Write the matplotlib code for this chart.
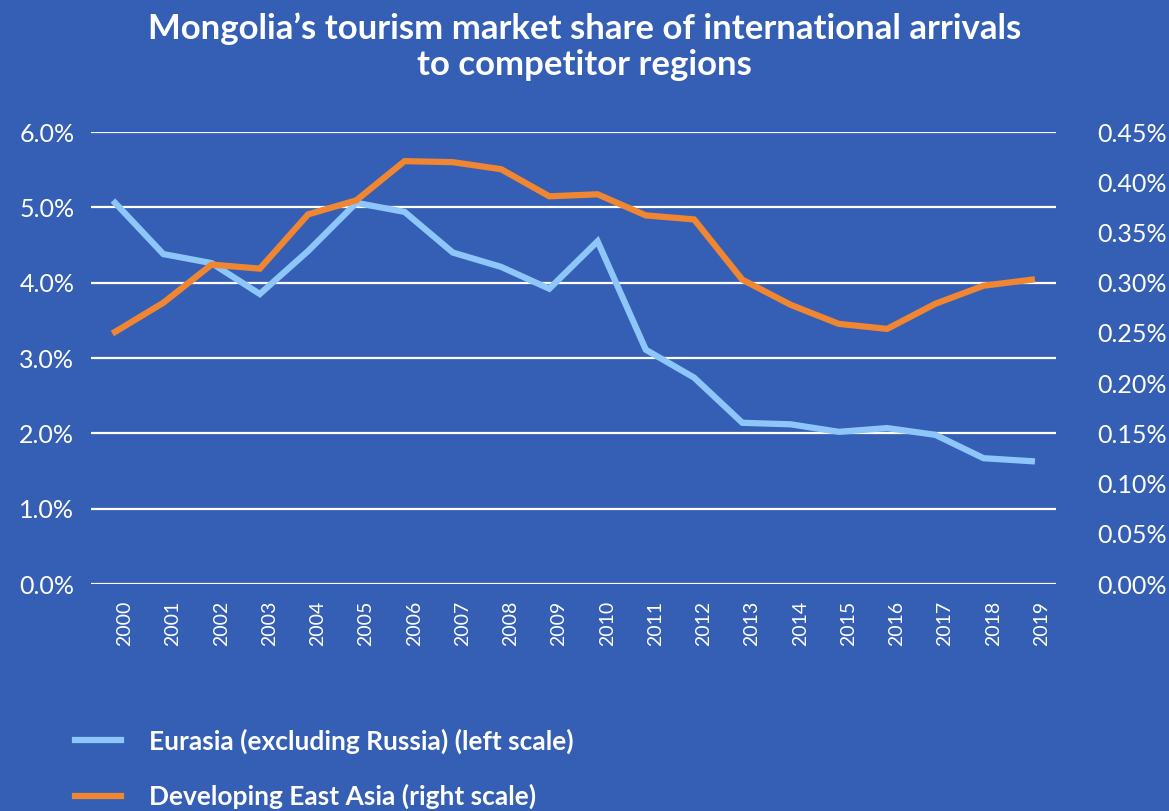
#!/usr/bin/env python3
"""Mongolia's tourism market share of international arrivals to competitor regions."""
import matplotlib
matplotlib.use("Agg")
import matplotlib.pyplot as plt
from matplotlib.ticker import FuncFormatter, MultipleLocator
from matplotlib.transforms import ScaledTranslation

YEARS = [str(y) for y in range(2000, 2020)]

# share of arrivals, in percent
EURASIA = [5.06, 4.38, 4.26, 3.85, 4.42, 5.06, 4.94, 4.40, 4.21, 3.92,
           4.55, 3.11, 2.74, 2.14, 2.12, 2.02, 2.07, 1.98, 1.67, 1.63]
EAST_ASIA = [0.251, 0.280, 0.318, 0.314, 0.368, 0.382, 0.421, 0.420, 0.413, 0.386,
             0.388, 0.367, 0.363, 0.303, 0.278, 0.259, 0.254, 0.279, 0.297, 0.303]

LABELS = ["Eurasia (excluding Russia) (left scale)", "Developing East Asia (right scale)"]

BG = "#345FB4"
BLUE = "#8EC6FA"
ORANGE = "#F08632"

plt.rcParams["font.family"] = ["Lato", "DejaVu Sans"]

fig = plt.figure(figsize=(11.69, 8.11), dpi=100, facecolor=BG)
ax = fig.add_axes([0.0778, 0.2799, 0.9033 - 0.0778, 0.8372 - 0.2799])
ax.set_facecolor(BG)
ax2 = ax.twinx()

x = list(range(len(YEARS)))
l1, = ax.plot(x, EURASIA, color=BLUE, lw=4.5, solid_joinstyle="miter", zorder=3)
l2, = ax2.plot(x, EAST_ASIA, color=ORANGE, lw=4.5, solid_joinstyle="miter", zorder=3)

ax.set_xlim(-0.5, len(YEARS) - 0.5)
ax.set_ylim(0, 6)
ax2.set_ylim(0, 0.45)
ax.yaxis.set_major_locator(MultipleLocator(1))
ax2.yaxis.set_major_locator(MultipleLocator(0.05))
ax.yaxis.set_major_formatter(FuncFormatter(lambda v, p: f"{v:.1f}%"))
ax2.yaxis.set_major_formatter(FuncFormatter(lambda v, p: f"{v:.2f}%"))
ax.grid(axis="y", color="white", lw=1.6)
ax.set_axisbelow(True)

ax.set_xticks(x)
ax.set_xticklabels(YEARS, rotation=90)

for a in (ax, ax2):
    for s in a.spines.values():
        s.set_visible(False)
    a.tick_params(length=0, colors="white", labelsize=18)
ax.tick_params(axis="y", pad=12)
ax2.tick_params(axis="y", pad=30)
ax.tick_params(axis="x", pad=12, labelsize=14)
for lab in ax.get_xticklabels():
    lab.set_transform(lab.get_transform() + ScaledTranslation(7 / 72, 0, fig.dpi_scale_trans))

fig.text(0.5, 0.985, "Mongolia’s tourism market share of international arrivals\nto competitor regions",
         ha="center", va="top", color="white", fontsize=25, fontweight="bold", linespacing=1.15)

fig.legend([l1, l2], LABELS, loc="upper left", bbox_to_anchor=(0.055, 0.115), frameon=False,
           labelcolor="white", prop={"weight": "bold", "size": 19}, handlelength=1.75,
           labelspacing=1.15, handletextpad=1.05, borderaxespad=0)

fig.savefig("out.png", dpi=100, facecolor=BG)
